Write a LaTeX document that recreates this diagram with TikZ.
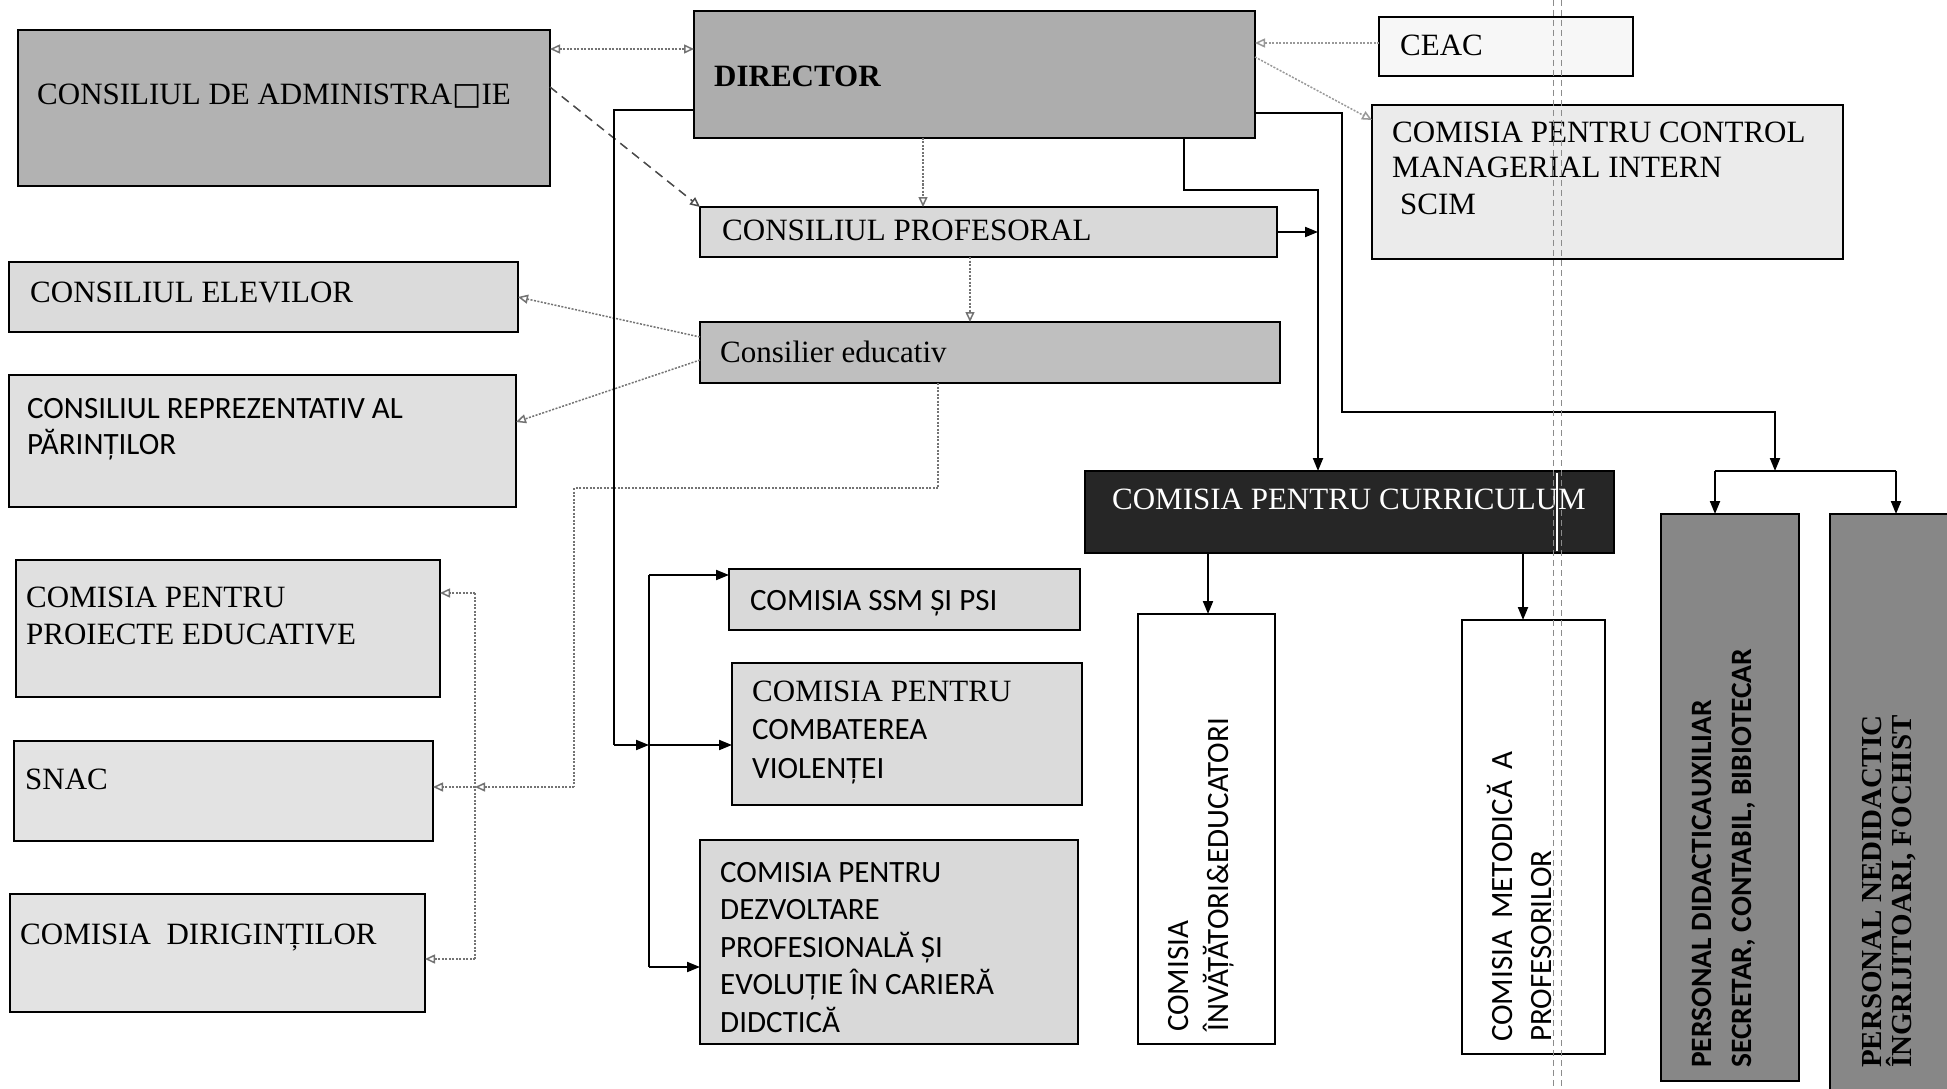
\documentclass[tikz,border=0pt]{standalone}
\usepackage{fontspec}
\setmainfont{Liberation Serif}
\newfontfamily\calib{Carlito}
\newfontfamily\djv{DejaVu Serif}
\usetikzlibrary{arrows.meta}
\begin{document}
\begin{tikzpicture}[x=1pt,y=-1pt,
  box/.style={draw=black, line width=2.2pt, anchor=north west, inner sep=0pt, outer sep=0pt},
  tser/.style={font=\fontsize{31}{37}\selectfont, inner sep=0pt, anchor=base west},
  tsan/.style={font=\calib\fontsize{31}{37}\selectfont, inner sep=0pt, anchor=base west},
  solidln/.style={draw=black, line width=2pt},
  sarrow/.style={solidln, -{Triangle[length=13pt,width=10pt]}},
  dotln/.style={draw=black!55, line width=1.5pt, dash pattern=on 2pt off 1.5pt},
  darrow/.style={dotln, -{Triangle[open,length=10pt,width=9pt]}},
  artifact/.style={draw=black!45, line width=1pt, dash pattern=on 6pt off 4pt}
]
\path[use as bounding box, fill=white] (0,0) rectangle (1947,1089);

% ---- boxes ----
\node[box, fill=black!30, minimum width=532pt, minimum height=156pt] (cda) at (18,30) {};
\node[box, fill=black!32, minimum width=561pt, minimum height=127pt] (dir) at (694,11) {};
\node[box, fill=black!3, minimum width=254pt, minimum height=59pt] (ceac) at (1379,17) {};
\node[box, fill=black!8, minimum width=471pt, minimum height=154pt] (ctrl) at (1372,105) {};
\node[box, fill=black!15, minimum width=577pt, minimum height=50pt] (prof) at (700,207) {};
\node[box, fill=black!14, minimum width=509pt, minimum height=70pt] (elev) at (9,262) {};
\node[box, fill=black!25, minimum width=580pt, minimum height=61pt] (cons) at (700,322) {};
\node[box, fill=black!12, minimum width=507pt, minimum height=132pt] (repr) at (9,375) {};
\node[box, fill=black!85, minimum width=529pt, minimum height=82pt] (curr) at (1085,471) {};
\node[box, fill=black!12, minimum width=424pt, minimum height=137pt] (proi) at (16,560) {};
\node[box, fill=black!11, minimum width=419pt, minimum height=100pt] (snac) at (14,741) {};
\node[box, fill=black!11, minimum width=415pt, minimum height=118pt] (dirig) at (10,894) {};
\node[box, fill=black!15, minimum width=351pt, minimum height=61pt] (ssm) at (729,569) {};
\node[box, fill=black!14, minimum width=350pt, minimum height=142pt] (viol) at (732,663) {};
\node[box, fill=black!15, minimum width=378pt, minimum height=204pt] (dezv) at (700,840) {};
\node[box, fill=white, minimum width=137pt, minimum height=430pt] (inv) at (1138,614) {};
\node[box, fill=white, minimum width=143pt, minimum height=434pt] (met) at (1462,620) {};
\node[box, fill=black!47, minimum width=138pt, minimum height=567pt] (pers1) at (1661,514) {};
\node[box, fill=black!47, minimum width=160pt, minimum height=590pt] (pers2) at (1830,514) {};

% ---- texts ----
\node[tser] (cdat) at (37,105) {CONSILIUL DE ADMINISTRA{\djv □}IE};
\node[tser, font=\bfseries\fontsize{31}{37}\selectfont] (dirt) at (714,87) {DIRECTOR};
\node[tser] (ceact) at (1400,56) {CEAC};
\node[tser] (ctrla) at (1392,143) {COMISIA PENTRU CONTROL};
\node[tser] (ctrlb) at (1392,178) {MANAGERIAL INTERN};
\node[tser] (ctrlc) at (1400,214) {SCIM};
\node[tser] (proft) at (722,240) {CONSILIUL PROFESORAL};
\node[tser] (elevt) at (30,302) {CONSILIUL ELEVILOR};
\node[tser] (const) at (720,362) {Consilier educativ};
\node[tsan] (repra) at (27,418) {CONSILIUL REPREZENTATIV AL};
\node[tsan] (reprb) at (27,454) {PĂRINȚILOR};
\node[tser, anchor=base, text=white] (currt) at (1349,509) {COMISIA PENTRU CURRICULUM};
\node[tser] (proia) at (26,607) {COMISIA PENTRU};
\node[tser] (proib) at (26,644) {PROIECTE EDUCATIVE};
\node[tser] (snact) at (25,789) {SNAC};
\node[tser] (dirigt) at (20,944) {COMISIA\ \ DIRIGINȚILOR};
\node[tsan] (ssmt) at (750,610) {COMISIA SSM ȘI PSI};
\node[tser] (viola) at (752,701) {COMISIA PENTRU};
\node[tsan] (violb) at (752,739) {COMBATEREA};
\node[tsan] (violc) at (752,778) {VIOLENȚEI};
\node[tsan] (dezva) at (720,882) {COMISIA PENTRU};
\node[tsan] (dezvb) at (720,919) {DEZVOLTARE};
\node[tsan] (dezvc) at (720,957) {PROFESIONALĂ ȘI};
\node[tsan] (dezvd) at (720,994) {EVOLUȚIE ÎN CARIERĂ};
\node[tsan] (dezve) at (720,1032) {DIDCTICĂ};
\node[tsan, rotate=90] (inva) at (1188,1032) {COMISIA};
\node[tsan, rotate=90] (invb) at (1228,1032) {ÎNVĂȚĂTORI\&EDUCATORI};
\node[tsan, rotate=90] (meta) at (1512,1042) {COMISIA\hspace{12pt}METODICĂ\hspace{12pt}A};
\node[tsan, rotate=90] (metb) at (1551,1042) {PROFESORILOR};
\node[tsan, rotate=90, font=\calib\bfseries\fontsize{29.5}{35}\selectfont] (pers1a) at (1711,1068) {PERSONAL DIDACTICAUXILIAR};
\node[tsan, rotate=90, font=\calib\bfseries\fontsize{29.5}{35}\selectfont] (pers1b) at (1751,1068) {SECRETAR, CONTABIL, BIBIOTECAR};
\node[tser, rotate=90, font=\bfseries\fontsize{29}{35}\selectfont] (pers2a) at (1881,1068) {PERSONAL NEDIDACTIC};
\node[tser, rotate=90, font=\bfseries\fontsize{29}{35}\selectfont] (pers2b) at (1911,1068) {ÎNGRIJITOARI, FOCHIST};

% ---- helper coordinates ----
\coordinate (jL) at (614,110);
\coordinate (jB) at (614,745);
\coordinate (brM) at (649,745);
\coordinate (brT) at (649,575);
\coordinate (brB) at (649,967);
\coordinate (c11a) at (1184,190);
\coordinate (c11b) at (1318,190);
\coordinate (c13a) at (1342,113);
\coordinate (c13b) at (1342,412);
\coordinate (c13c) at (1775,412);
\coordinate (c13d) at (1775,471);
\coordinate (b13l) at (1715,471);
\coordinate (b13r) at (1896,471);
\coordinate (c8a) at (938,488);
\coordinate (c8b) at (574,488);
\coordinate (c8c) at (574,787);
\coordinate (b8m) at (475,787);
\coordinate (b8t) at (475,593);
\coordinate (b8b) at (475,959);
\coordinate (x4) at (923,0);
\coordinate (x5) at (970,0);
\coordinate (x14) at (1208,0);
\coordinate (x15) at (1523,0);

% ---- dotted / dashed connectors ----
\draw[dotln, {Triangle[open,length=10pt,width=9pt]}-{Triangle[open,length=10pt,width=9pt]}]
  (cda.east |- 0,49) -- (dir.west |- 0,49);
\draw[draw=black!70, line width=1.5pt, dash pattern=on 9pt off 6pt, -{Triangle[open,length=10pt,width=9pt]}]
  (cda.east |- 0,87) -- (prof.north west);
\draw[darrow] (x4 |- dir.south) -- (x4 |- prof.north);
\draw[darrow] (x5 |- prof.south) -- (x5 |- cons.north);
\draw[darrow] (cons.west |- 0,337) -- (elev.east |- 0,297);
\draw[darrow] (cons.west |- 0,360) -- (repr.east |- 0,422);
\draw[dotln] (c8a |- cons.south) -- (c8a) -- (c8b) -- (c8c);
\draw[darrow] (c8c) -- (b8m);
\draw[dotln] (b8t) -- (b8b);
\draw[darrow] (b8t) -- (proi.east |- b8t);
\draw[darrow] (b8m) -- (snac.east |- b8m);
\draw[darrow] (b8b) -- (dirig.east |- b8b);
\draw[darrow, draw=black!40] (ceac.west |- 0,43) -- (dir.east |- 0,43);
\draw[darrow, draw=black!40] (dir.east |- 0,57) -- (ctrl.west |- 0,120);

% ---- solid connectors ----
\draw[solidln] (dir.west |- jL) -- (jL) -- (jB);
\draw[sarrow] (jB) -- (brM);
\draw[solidln] (brT) -- (brB);
\draw[sarrow] (brT) -- (ssm.west |- brT);
\draw[sarrow] (brM) -- (viol.west |- brM);
\draw[sarrow] (brB) -- (dezv.west |- brB);
\draw[sarrow] (c11a |- dir.south) -- (c11a) -- (c11b) -- (c11b |- curr.north);
\draw[sarrow] (prof.east) -- (prof.east -| c11b);
\draw[sarrow] (dir.east |- c13a) -- (c13a) -- (c13b) -- (c13c) -- (c13d);
\draw[solidln] (b13l) -- (b13r);
\draw[sarrow] (b13l) -- (b13l |- pers1.north);
\draw[sarrow] (b13r) -- (b13r |- pers2.north);
\draw[sarrow] (x14 |- curr.south) -- (x14 |- inv.north);
\draw[sarrow] (x15 |- curr.south) -- (x15 |- met.north);

% ---- scan artefact (double vertical line) ----
\draw[artifact] (1553,0) -- (1553,1089);
\draw[artifact] (1561,0) -- (1561,1089);
\draw[draw=white, line width=2pt] (1557,473) -- (1557,551);
\end{tikzpicture}
\end{document}
